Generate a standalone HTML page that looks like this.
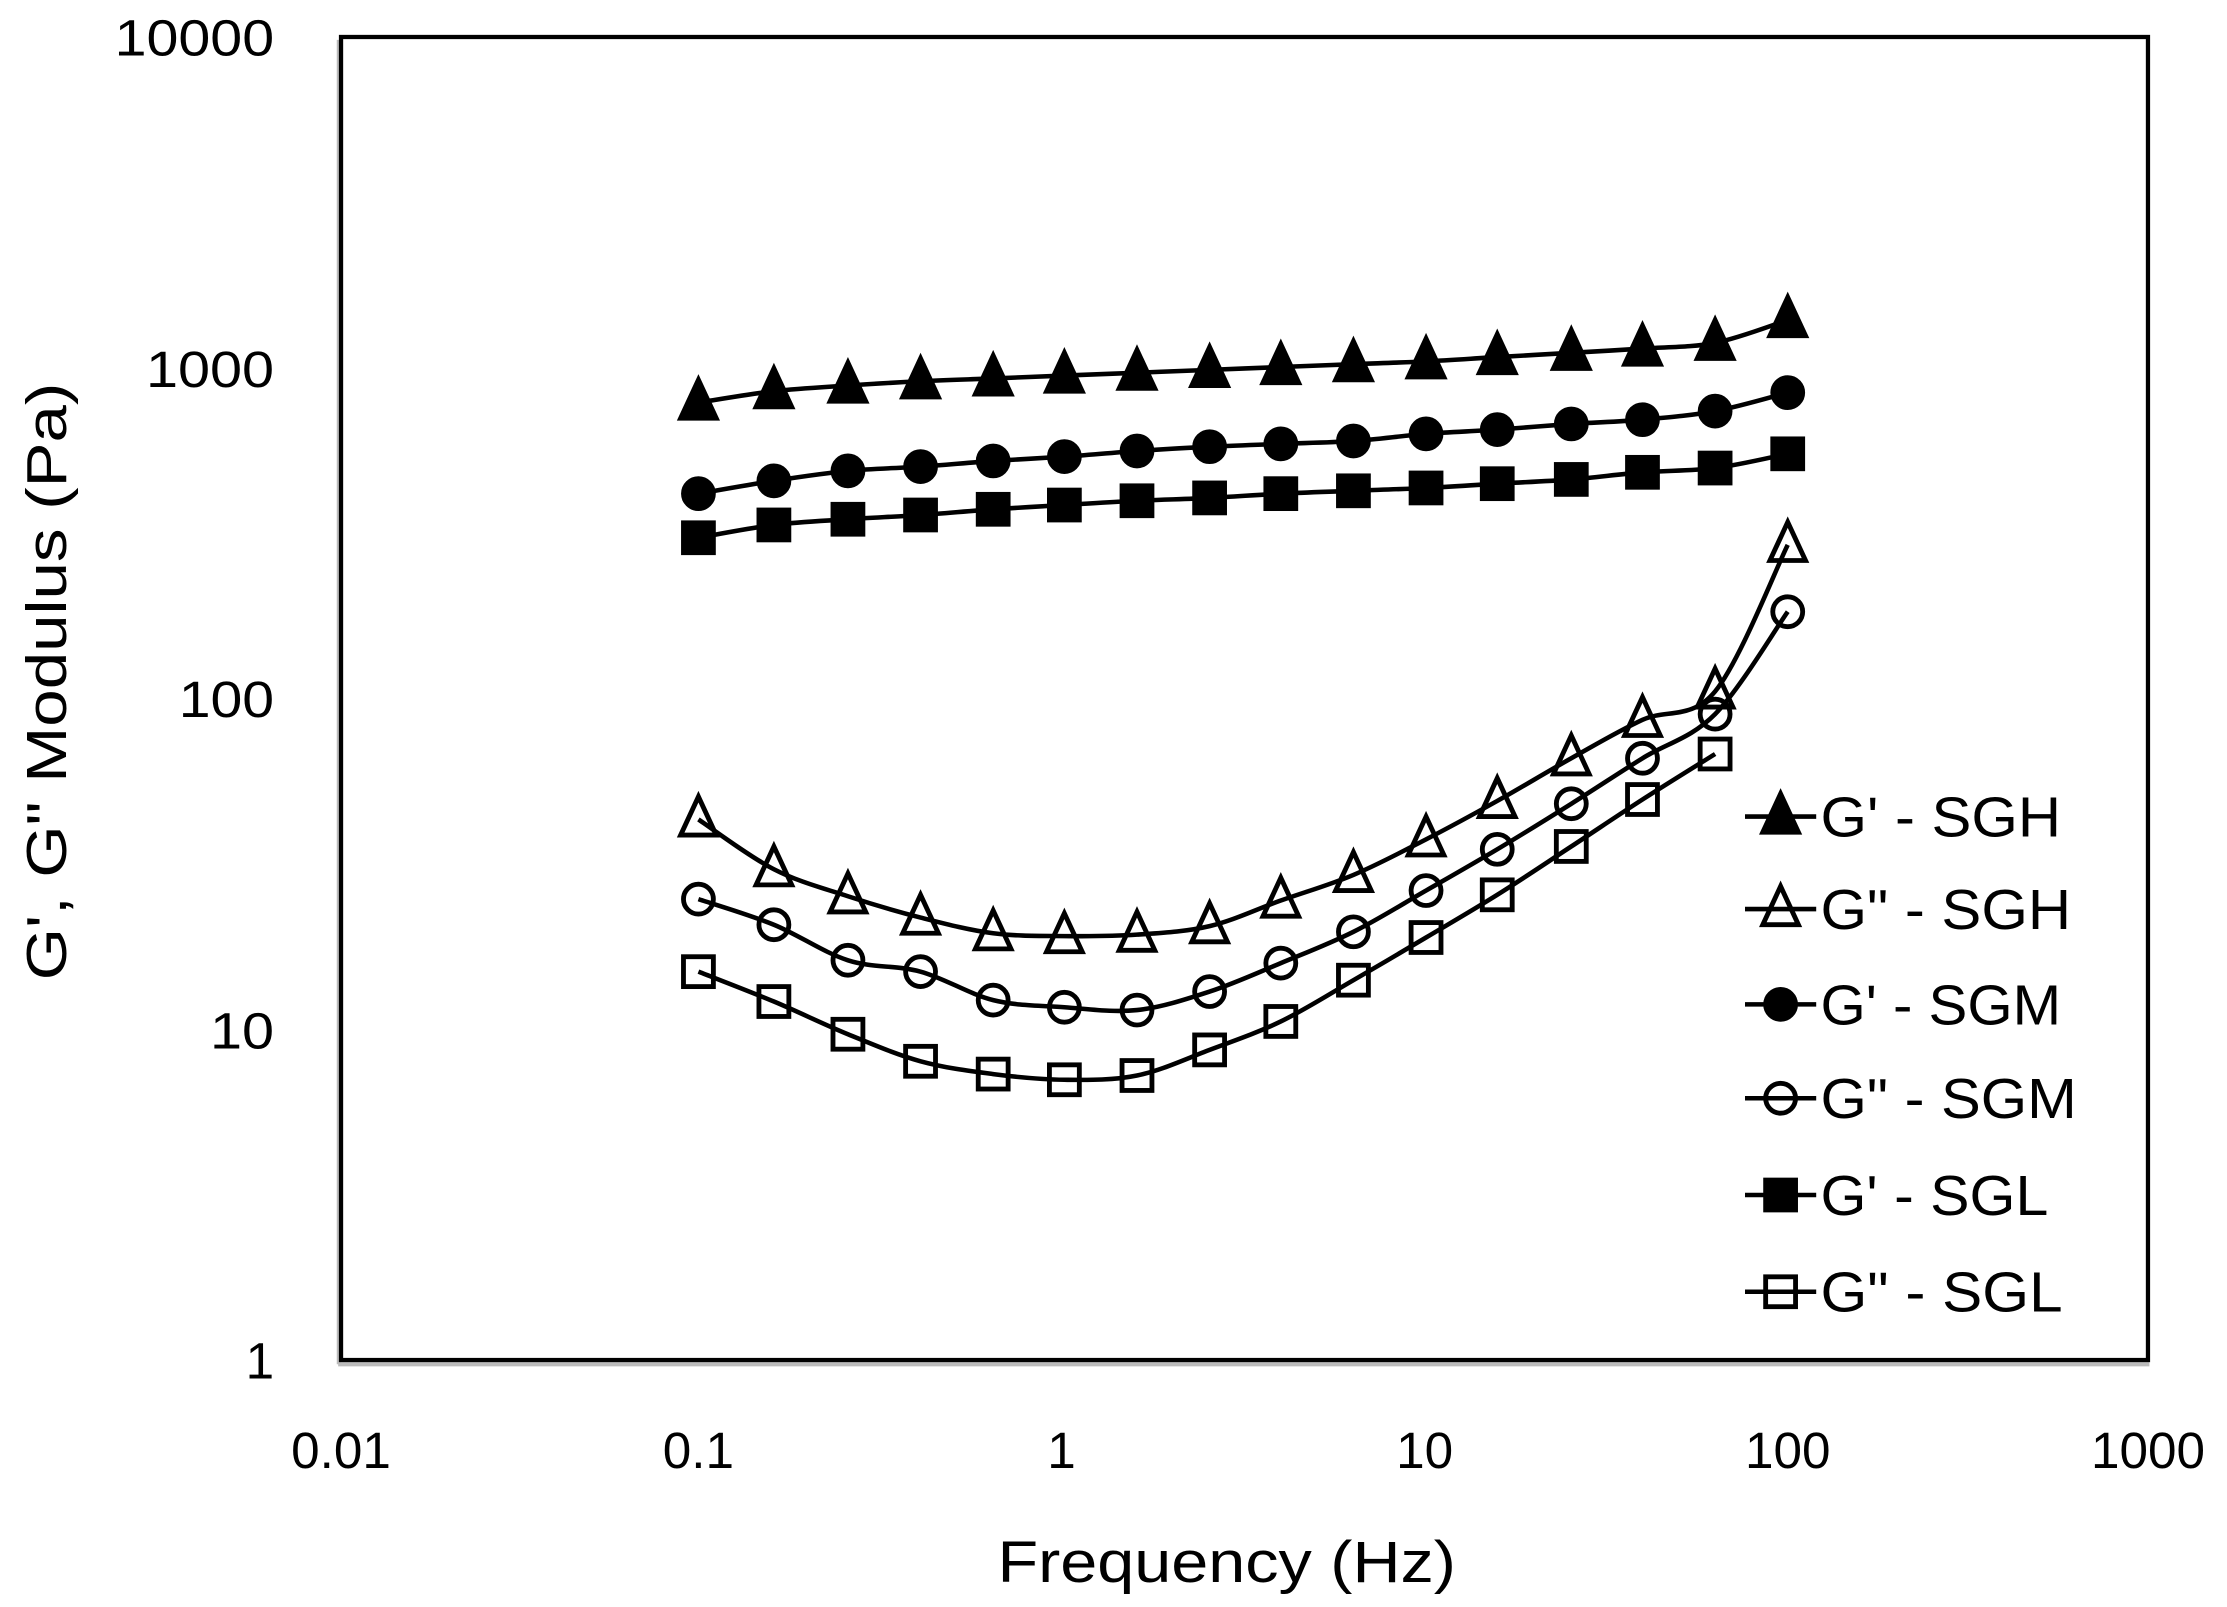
<!DOCTYPE html>
<html><head><meta charset="utf-8"><style>
html,body{margin:0;padding:0;background:#fff;}
svg{display:block;}
text{font-family:"Liberation Sans",Arial,sans-serif;fill:#000;}
</style></head><body>
<svg id="s" width="2227" height="1607" viewBox="-0.5 1 1564 1129.6" preserveAspectRatio="none" xmlns="http://www.w3.org/2000/svg">
<rect x="-10" y="-10" width="1600" height="1150" fill="#fff"/>
<line x1="237.5" y1="29" x2="237.5" y2="960" stroke="#bbb" stroke-width="3"/>
<line x1="237" y1="960" x2="1509" y2="960" stroke="#bbb" stroke-width="3"/>
<rect x="239" y="27" width="1269" height="930" fill="none" stroke="#000" stroke-width="3"/>
<g font-size="36" text-anchor="end">
<text x="192" y="40" textLength="112" lengthAdjust="spacingAndGlyphs">10000</text>
<text x="192" y="273" textLength="90" lengthAdjust="spacingAndGlyphs">1000</text>
<text x="192" y="505" textLength="67" lengthAdjust="spacingAndGlyphs">100</text>
<text x="192" y="738" textLength="45" lengthAdjust="spacingAndGlyphs">10</text>
<text x="192" y="970">1</text>
</g>
<g font-size="36" text-anchor="middle">
<text x="239" y="1033">0.01</text>
<text x="490" y="1033">0.1</text>
<text x="745" y="1033">1</text>
<text x="1000" y="1033">10</text>
<text x="1255" y="1033">100</text>
<text x="1508" y="1033">1000</text>
</g>
<text x="700" y="1113" font-size="41" textLength="322" lengthAdjust="spacingAndGlyphs">Frequency (Hz)</text>
<text x="0" y="0" font-size="40" textLength="420" lengthAdjust="spacingAndGlyphs" transform="translate(46,690) rotate(-90)">G', G" Modulus (Pa)</text>
<g font-size="40">
<text x="1278" y="589" textLength="169" lengthAdjust="spacingAndGlyphs">G' - SGH</text>
<text x="1278" y="654" textLength="176" lengthAdjust="spacingAndGlyphs">G" - SGH</text>
<text x="1278" y="721" textLength="169" lengthAdjust="spacingAndGlyphs">G' - SGM</text>
<text x="1278" y="787" textLength="180" lengthAdjust="spacingAndGlyphs">G" - SGM</text>
<text x="1278" y="855" textLength="160" lengthAdjust="spacingAndGlyphs">G' - SGL</text>
<text x="1278" y="923" textLength="170" lengthAdjust="spacingAndGlyphs">G" - SGL</text>
</g>
<g id="d"></g>
</svg>
<script>
var X=[490,543,595,646,697,747,798,849,899,950,1001,1051,1103,1153,1204,1255];
var S=[
 {m:'tri',f:1,y:[284,276,272,269,267,265,263,261,259,257,255,252,249,246,242,226],ly:575},
 {m:'tri',f:0,y:[577,612,631,646,657,659,658,652,634,616,591,564,534,507,487,384],ly:640},
 {m:'cir',f:1,y:[348,339,332,329,325,322,318,315,313,311,306,303,299,296,290,277],ly:707},
 {m:'cir',f:0,y:[633,651,676,684,704,709,711,698,678,656,627,598,566,534,503,431],ly:773},
 {m:'sq',f:1,y:[379,370,366,363,359,356,353,351,348,346,344,341,338,333,330,320],ly:841},
 {m:'sq',f:0,y:[684,705,728,747,756,760,757,739,719,690,660,630,596,563,531],ly:909}
];
var g=document.getElementById('d'),h='';
function mk(t,f,x,y){
 var st='stroke="#000" stroke-width="3.4" fill="'+(f?'#000':'none')+'"';
 if(t=='tri')return '<polygon points="'+x+','+(y-16)+' '+(x-12.5)+','+(y+11)+' '+(x+12.5)+','+(y+11)+'" '+st+'/>';
 if(t=='cir')return '<circle cx="'+x+'" cy="'+y+'" r="10.5" '+st+'/>';
 return '<rect x="'+(x-10.5)+'" y="'+(y-10.5)+'" width="21" height="21" '+st+'/>';
}
S.forEach(function(s){
 var P=s.y.map(function(y,i){return [X[i],y];});
 var d='M'+P[0][0]+','+P[0][1];
 for(var i=0;i<P.length-1;i++){
  var p0=P[i-1]||P[i],p1=P[i],p2=P[i+1],p3=P[i+2]||P[i+1];
  var c1=[p1[0]+(p2[0]-p0[0])/6,p1[1]+(p2[1]-p0[1])/6],c2=[p2[0]-(p3[0]-p1[0])/6,p2[1]-(p3[1]-p1[1])/6];
  d+=' C'+c1+' '+c2+' '+p2;
 }
 h+='<path d="'+d+'" fill="none" stroke="#000" stroke-width="3.2"/>';
 P.forEach(function(p){h+=mk(s.m,s.f,p[0],p[1]);});
 h+='<line x1="1225" y1="'+s.ly+'" x2="1275" y2="'+s.ly+'" stroke="#000" stroke-width="3.2"/>'+mk(s.m,s.f,1250,s.ly);
});
g.innerHTML=h;
</script>
</body></html>
